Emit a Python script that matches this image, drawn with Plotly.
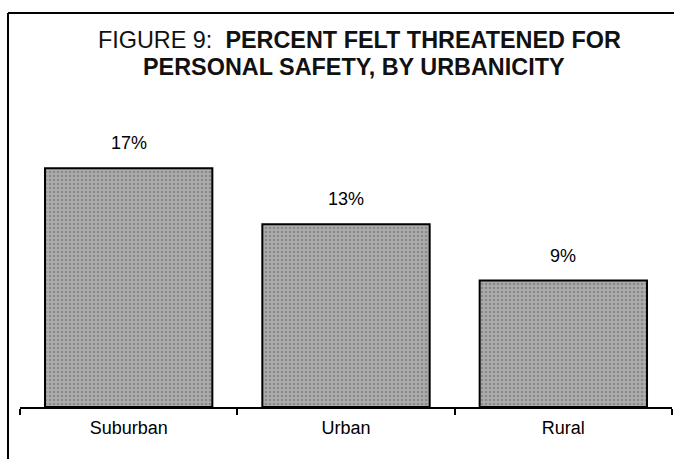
import plotly.graph_objects as go

categories = ["Suburban", "Urban", "Rural"]
values = [17, 13, 9]
value_labels = ["17%", "13%", "9%"]

title_line1 = "FIGURE 9:  <b>PERCENT FELT THREATENED FOR</b>"
title_line2 = "<b>PERSONAL SAFETY, BY URBANICITY</b>"

fig = go.Figure()
fig.add_trace(go.Bar(
    x=categories, y=values,
    width=0.77,
    marker=dict(
        color="#a0a0a0",
        line=dict(color="black", width=2),
        pattern=dict(shape=".", fgcolor="#666666", bgcolor="#acacac", size=4, solidity=0.35),
    ),
    hoverinfo="skip",
))

for c, v, t in zip(categories, values, value_labels):
    fig.add_annotation(x=c, y=v, text=t, showarrow=False, yshift=25,
                       font=dict(family="Liberation Sans, Arial", size=18, color="black"))

title_font = dict(family="Liberation Sans, Arial", size=23.4, color="#111")
fig.add_annotation(xref="paper", yref="paper", x=0.521, y=1.307, text=title_line1,
                   showarrow=False, xanchor="center", yanchor="middle", font=title_font)
fig.add_annotation(xref="paper", yref="paper", x=0.512, y=1.209, text=title_line2,
                   showarrow=False, xanchor="center", yanchor="middle", font=title_font)

fig.update_layout(
    width=674, height=459,
    margin=dict(l=20, r=2, t=126, b=52),
    paper_bgcolor="white", plot_bgcolor="white",
    showlegend=False,
    font=dict(family="Liberation Sans, Arial", color="black"),
    xaxis=dict(showline=True, linecolor="black", linewidth=2, ticks="outside",
               tickson="boundaries", ticklen=6, tickcolor="black", tickwidth=2,
               ticklabelstandoff=3,
               tickfont=dict(size=18), showgrid=False, zeroline=False),
    yaxis=dict(range=[0, 20], visible=False, showgrid=False, zeroline=False),
)

# scanned figure frame (top and left borders)
fig.add_shape(type="line", xref="paper", yref="paper", x0=-0.0184, x1=1.01, y0=1.402, y1=1.402,
              line=dict(color="black", width=2))
fig.add_shape(type="line", xref="paper", yref="paper", x0=-0.0184, x1=-0.0184, y0=-0.2, y1=1.402,
              line=dict(color="black", width=2))

fig.write_html("out.html", config={"displayModeBar": False},
               post_script="document.body.style.margin='0';")
